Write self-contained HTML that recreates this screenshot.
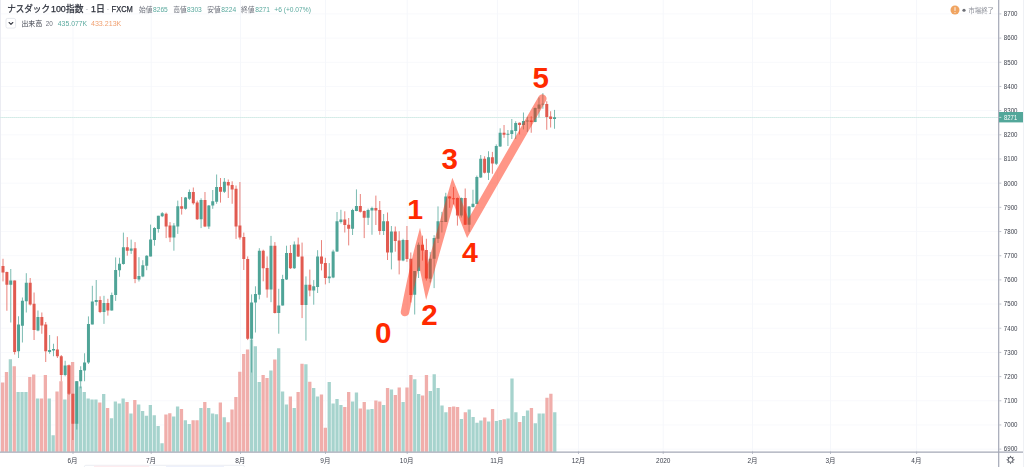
<!DOCTYPE html>
<html lang="ja"><head><meta charset="utf-8"><title>ナスダック100指数 1日 FXCM</title>
<style>html,body{margin:0;padding:0;background:#fff;width:1024px;height:467px;overflow:hidden}body{position:relative;font-family:"Liberation Sans",sans-serif}</style></head>
<body>
<svg width="1024" height="467" viewBox="0 0 1024 467" style="position:absolute;left:0;top:0;font-family:'Liberation Sans',sans-serif">
<rect width="1024" height="467" fill="#fff"/>
<path d="M0 13.9H998M0 38.08H998M0 62.26H998M0 86.44H998M0 110.62H998M0 134.8H998M0 158.98H998M0 183.16H998M0 207.34H998M0 231.52H998M0 255.7H998M0 279.88H998M0 304.06H998M0 328.24H998M0 352.42H998M0 376.6H998M0 400.78H998M0 424.96H998M0 449.14H998" stroke="#f8f9fc" stroke-width="1" fill="none"/>
<path d="M73 0V451.5M151.2 0V451.5M240.5 0V451.5M325.5 0V451.5M407.2 0V451.5M497.4 0V451.5M578.5 0V451.5M663.2 0V451.5M752.5 0V451.5M830.5 0V451.5M916.6 0V451.5" stroke="#f5f7fb" stroke-width="1" fill="none"/>
<path d="M0.5 0V451.5" stroke="#ebecf2" stroke-width="1"/>
<path d="M0 117.5H998" stroke="#dcefec" stroke-width="1" fill="none"/>
<path d="M0 117.5H998" stroke="#cde7e3" stroke-width="0.6" stroke-dasharray="1 1" fill="none"/>
<path d="M8.73 359.3h3.3V451.7h-3.3zM16.5 392.1h3.3V451.7h-3.3zM20.39 392.1h3.3V451.7h-3.3zM24.28 392.1h3.3V451.7h-3.3zM35.95 398.4h3.3V451.7h-3.3zM47.61 398.4h3.3V451.7h-3.3zM51.5 435.2h3.3V451.7h-3.3zM63.17 399.4h3.3V451.7h-3.3zM74.83 381.3h3.3V451.7h-3.3zM78.72 386.4h3.3V451.7h-3.3zM82.61 392.1h3.3V451.7h-3.3zM86.5 398.4h3.3V451.7h-3.3zM90.39 399.4h3.3V451.7h-3.3zM94.27 399.4h3.3V451.7h-3.3zM102.05 393.9h3.3V451.7h-3.3zM109.83 418.2h3.3V451.7h-3.3zM113.72 401.4h3.3V451.7h-3.3zM117.6 403.4h3.3V451.7h-3.3zM121.49 398.4h3.3V451.7h-3.3zM129.27 413.4h3.3V451.7h-3.3zM137.05 404.6h3.3V451.7h-3.3zM140.94 410.9h3.3V451.7h-3.3zM144.82 415.7h3.3V451.7h-3.3zM148.71 405.1h3.3V451.7h-3.3zM152.6 415.2h3.3V451.7h-3.3zM156.49 425.9h3.3V451.7h-3.3zM160.38 443.2h3.3V451.7h-3.3zM172.04 416.4h3.3V451.7h-3.3zM175.93 406.4h3.3V451.7h-3.3zM183.71 420.2h3.3V451.7h-3.3zM187.6 423.9h3.3V451.7h-3.3zM199.26 408.1h3.3V451.7h-3.3zM207.04 408.1h3.3V451.7h-3.3zM210.93 413.4h3.3V451.7h-3.3zM214.82 414.2h3.3V451.7h-3.3zM222.59 417.2h3.3V451.7h-3.3zM249.81 339.5h3.3V451.7h-3.3zM253.7 346.3h3.3V451.7h-3.3zM257.59 382.1h3.3V451.7h-3.3zM269.26 370.6h3.3V451.7h-3.3zM277.03 348.3h3.3V451.7h-3.3zM280.92 391.4h3.3V451.7h-3.3zM284.81 404.6h3.3V451.7h-3.3zM292.59 408.1h3.3V451.7h-3.3zM304.25 364.3h3.3V451.7h-3.3zM312.03 388.1h3.3V451.7h-3.3zM315.92 396.4h3.3V451.7h-3.3zM327.58 382.1h3.3V451.7h-3.3zM331.47 403.4h3.3V451.7h-3.3zM335.36 398.9h3.3V451.7h-3.3zM339.25 405.1h3.3V451.7h-3.3zM350.92 401.4h3.3V451.7h-3.3zM354.8 392.6h3.3V451.7h-3.3zM366.47 409.6h3.3V451.7h-3.3zM370.36 408.9h3.3V451.7h-3.3zM382.02 405.1h3.3V451.7h-3.3zM389.8 389.4h3.3V451.7h-3.3zM401.47 402.1h3.3V451.7h-3.3zM413.13 379.3h3.3V451.7h-3.3zM417.02 393.9h3.3V451.7h-3.3zM428.69 390.9h3.3V451.7h-3.3zM432.57 374.3h3.3V451.7h-3.3zM436.46 388.1h3.3V451.7h-3.3zM440.35 405.6h3.3V451.7h-3.3zM444.24 412.2h3.3V451.7h-3.3zM459.79 418.9h3.3V451.7h-3.3zM467.57 409.4h3.3V451.7h-3.3zM471.46 417.1h3.3V451.7h-3.3zM475.35 422.7h3.3V451.7h-3.3zM479.24 420.6h3.3V451.7h-3.3zM487.01 421.4h3.3V451.7h-3.3zM494.79 421.1h3.3V451.7h-3.3zM498.68 420h3.3V451.7h-3.3zM506.46 418.6h3.3V451.7h-3.3zM510.34 378.4h3.3V451.7h-3.3zM514.23 412.3h3.3V451.7h-3.3zM522.01 416h3.3V451.7h-3.3zM525.9 410.4h3.3V451.7h-3.3zM533.67 423.2h3.3V451.7h-3.3zM537.56 413.5h3.3V451.7h-3.3zM541.45 413.5h3.3V451.7h-3.3zM553.12 412.3h3.3V451.7h-3.3z" fill="#a6d3cd"/>
<path d="M0.95 382.6h3.3V451.7h-3.3zM4.84 372.1h3.3V451.7h-3.3zM12.62 366.3h3.3V451.7h-3.3zM28.17 377.1h3.3V451.7h-3.3zM32.06 374.6h3.3V451.7h-3.3zM39.84 398.4h3.3V451.7h-3.3zM43.72 375.1h3.3V451.7h-3.3zM55.39 391.4h3.3V451.7h-3.3zM59.28 381.3h3.3V451.7h-3.3zM67.05 365.1h3.3V451.7h-3.3zM70.94 362.1h3.3V451.7h-3.3zM98.16 402.6h3.3V451.7h-3.3zM105.94 408.1h3.3V451.7h-3.3zM125.38 402.1h3.3V451.7h-3.3zM133.16 400.1h3.3V451.7h-3.3zM164.27 414.4h3.3V451.7h-3.3zM168.16 413.2h3.3V451.7h-3.3zM179.82 408.9h3.3V451.7h-3.3zM191.49 420.2h3.3V451.7h-3.3zM195.38 420.2h3.3V451.7h-3.3zM203.15 402.1h3.3V451.7h-3.3zM218.71 402.6h3.3V451.7h-3.3zM226.48 422.2h3.3V451.7h-3.3zM230.37 409.4h3.3V451.7h-3.3zM234.26 397.1h3.3V451.7h-3.3zM238.15 371.8h3.3V451.7h-3.3zM242.04 354h3.3V451.7h-3.3zM245.93 349.5h3.3V451.7h-3.3zM261.48 375.1h3.3V451.7h-3.3zM265.37 378.1h3.3V451.7h-3.3zM273.15 359.5h3.3V451.7h-3.3zM288.7 396.4h3.3V451.7h-3.3zM296.48 391.9h3.3V451.7h-3.3zM300.36 363.8h3.3V451.7h-3.3zM308.14 381.8h3.3V451.7h-3.3zM319.81 394.4h3.3V451.7h-3.3zM323.7 427.7h3.3V451.7h-3.3zM343.14 407.1h3.3V451.7h-3.3zM347.03 392.1h3.3V451.7h-3.3zM358.69 408.4h3.3V451.7h-3.3zM362.58 402.1h3.3V451.7h-3.3zM374.25 400.6h3.3V451.7h-3.3zM378.13 401.4h3.3V451.7h-3.3zM385.91 388.1h3.3V451.7h-3.3zM393.69 395.1h3.3V451.7h-3.3zM397.58 387.6h3.3V451.7h-3.3zM405.35 387.6h3.3V451.7h-3.3zM409.24 375.1h3.3V451.7h-3.3zM420.91 395.6h3.3V451.7h-3.3zM424.8 375.1h3.3V451.7h-3.3zM448.13 407.1h3.3V451.7h-3.3zM452.02 406.4h3.3V451.7h-3.3zM455.9 407.1h3.3V451.7h-3.3zM463.68 412.2h3.3V451.7h-3.3zM483.12 417.4h3.3V451.7h-3.3zM490.9 409h3.3V451.7h-3.3zM502.57 419.3h3.3V451.7h-3.3zM518.12 422h3.3V451.7h-3.3zM529.79 408.1h3.3V451.7h-3.3zM545.34 397.7h3.3V451.7h-3.3zM549.23 393.7h3.3V451.7h-3.3z" fill="#f0aeab"/>
<path d="M10.77 269V322.5M18.54 316.25V358M22.42 297.5V342.5M26.3 273.2V312.5M37.96 310.5V331.25M49.61 335V353.75M53.49 343.75V356.25M65.14 360.75V376.25M76.8 381.25V429.5M80.68 366.25V388.25M84.56 353.25V381.25M88.45 316.4V364M92.33 285.8V324.4M96.22 280V305.6M103.98 295.8V323.9M111.75 292.6V310.6M115.64 257.4V300.9M119.52 257.8V276.8M123.4 232.6V264.7M131.17 239.6V253.9M138.94 257.2V281.5M142.82 260.2V277.2M146.71 255.2V270.2M150.59 224.6V256.4M154.48 227.1V245.7M158.36 215.8V232.6M162.24 212.1V217.1M173.9 223.1V250.7M177.78 200.6V233.9M185.55 197V209.6M189.43 189.5V200M201.08 198.3V228.1M208.85 205V228.9M212.74 190V208.8M216.62 174.5V203.8M224.39 178V193M251.58 294.4V372.5M255.46 286.3V332.5M259.34 248.2V299.4M271 235.9V302.2M278.76 288.8V333.7M282.65 274.8V305.6M286.53 245.7V280M294.3 241.4V269M305.95 276.4V340.6M313.72 280.1V304.7M317.6 250.2V293M329.26 263.1V283.1M333.14 249.7V278.2M337.02 212V252M340.91 209.8V223.5M352.56 208.75V235M356.44 189.4V211.25M368.1 208.6V225M371.98 206.7V234.75M383.63 214V235M391.4 226V269.4M403.05 238.75V261.25M414.7 271V314.5M418.59 242.5V278M430.24 251.9V282.5M434.12 235.2V288.1M438.01 206.4V243M441.89 211.9V232.5M445.78 192.8V222M461.31 197.5V217.5M469.08 206V231.9M472.96 189.75V207.5M476.85 175.6V204.5M480.73 155V178M488.5 151.25V180M496.27 144.4V165M500.15 128.3V146.9M507.92 130V146M511.8 119V139M515.69 121.25V139M523.46 112.5V129.4M527.34 116.9V131.9M535.11 107.5V122.2M538.99 97.5V117.5M542.88 93.1V108.75M554.53 109.9V128.75" stroke="#4fa497" stroke-width="0.75" fill="none"/>
<path d="M3 258.75V281.4M6.88 271.6V310.75M14.65 280.5V354.5M30.19 278V305.5M34.07 292.5V340M41.84 312.5V333.75M45.72 322V362M57.38 336.25V358M61.26 355V381.25M69.03 364.5V395M72.91 393.75V440M100.1 296.3V313.1M107.87 298.8V315.6M127.29 237.1V255.7M135.06 242.1V283.2M166.13 212.6V238.1M170.01 222.1V242.1M181.66 197V214.6M193.32 187.5V204.6M197.2 200.6V220M204.97 192V227.1M220.5 178V202.6M228.27 179.5V198M232.16 181.3V203.8M236.04 185.5V238.9M239.92 182V239.6M243.81 232.6V270M247.69 256.4V340.1M263.23 249.7V281.3M267.11 256.4V297.7M274.88 242.1V313.5M290.42 245V269M298.18 237.6V257M302.07 242.6V318.1M309.84 269.6V296.3M321.49 240.1V270.4M325.37 257.8V284.4M344.79 211.3V232.5M348.68 218V245.4M360.33 194V212.5M364.21 210.5V238.1M375.86 195.6V225M379.75 201V234.75M387.52 212.5V260M395.28 226.5V251.7M399.17 231.25V274.4M406.94 226V261.9M410.82 252.5V302.5M422.47 235.6V260.6M426.36 238.75V280.6M449.66 196V207.8M453.54 186.9V204.4M457.43 197.5V225.6M465.2 188.5V225M484.62 156.25V173.5M492.38 151.9V173.75M504.04 125V137.8M519.57 122.5V134.4M531.22 116.25V132.75M546.76 101.25V129.75M550.64 111.25V127.5" stroke="#e15a50" stroke-width="0.75" fill="none"/>
<path d="M9.27 280.5h3V284.8h-3zM17.04 324.5h3V351.25h-3zM20.92 300.75h3V325.75h-3zM24.8 282.8h3V301.25h-3zM36.46 316.9h3V330.5h-3zM48.11 350h3V352h-3zM51.99 349h3V350.5h-3zM63.64 365.5h3V375h-3zM75.3 381.25h3V423.75h-3zM79.18 370h3V381.25h-3zM83.06 362.5h3V370.5h-3zM86.95 323.9h3V362.6h-3zM90.83 301.4h3V324.4h-3zM94.72 300.1h3V301.9h-3zM102.48 303.1h3V311.9h-3zM110.25 295.1h3V310.6h-3zM114.14 270h3V295.1h-3zM118.02 263.8h3V270.3h-3zM121.9 247.2h3V263.9h-3zM129.67 248.4h3V250.7h-3zM137.44 276h3V279.5h-3zM141.32 265.2h3V276.5h-3zM145.21 255.7h3V265.7h-3zM149.09 239.6h3V256.4h-3zM152.98 228.1h3V240.1h-3zM156.86 215.8h3V228.9h-3zM160.74 213.3h3V216.3h-3zM172.4 225.6h3V237.6h-3zM176.28 206.3h3V226.4h-3zM184.05 197.6h3V208.8h-3zM187.93 192h3V198.8h-3zM199.58 200h3V219.3h-3zM207.35 205.6h3V226.4h-3zM211.24 201.3h3V205.6h-3zM215.12 187h3V201.8h-3zM222.89 181.8h3V191.8h-3zM250.08 302.5h3V338.8h-3zM253.96 294h3V302.5h-3zM257.84 250.7h3V294.7h-3zM269.5 245.7h3V289.6h-3zM277.26 305.6h3V313h-3zM281.15 278.9h3V305.6h-3zM285.03 253h3V279.5h-3zM292.8 244.4h3V268.3h-3zM304.45 284.7h3V305h-3zM312.22 286.3h3V290.6h-3zM316.1 256.4h3V287h-3zM327.76 276.6h3V278.2h-3zM331.64 251.4h3V277.5h-3zM335.52 221.3h3V251.6h-3zM339.41 219.4h3V221.9h-3zM351.06 210h3V228.8h-3zM354.94 206h3V211.1h-3zM366.6 210h3V217.75h-3zM370.48 207.9h3V210.6h-3zM382.13 221.25h3V231h-3zM389.9 231.5h3V252.5h-3zM401.55 240h3V260.6h-3zM413.2 271h3V294.75h-3zM417.09 244.75h3V271h-3zM428.74 258.75h3V278.75h-3zM432.62 238.1h3V258.75h-3zM436.51 221.25h3V238.75h-3zM440.39 220.95h3V221.85h-3zM444.28 196.5h3V221.9h-3zM459.81 198h3V215.6h-3zM467.58 206.5h3V224.75h-3zM471.46 203.75h3V206.9h-3zM475.35 176.9h3V204h-3zM479.23 158.75h3V177.5h-3zM487 157.25h3V172.75h-3zM494.77 146.1h3V163.75h-3zM498.65 132.75h3V146.5h-3zM506.42 133.75h3V134.75h-3zM510.3 130.25h3V134h-3zM514.19 123.1h3V131h-3zM521.96 121h3V125h-3zM525.84 120.55h3V121.45h-3zM533.61 108.1h3V121.9h-3zM537.49 104.4h3V108.75h-3zM541.38 103.67h3V104.58h-3zM553.03 117.25h3V119h-3z" fill="#4fa497"/>
<path d="M1.5 265.9h3V272.6h-3zM5.38 272h3V284.7h-3zM13.15 280.5h3V352h-3zM28.69 282.8h3V304.5h-3zM32.57 303.75h3V330h-3zM40.34 316.9h3V325.6h-3zM44.22 324.5h3V351.25h-3zM55.88 349.5h3V356.25h-3zM59.76 356.25h3V375h-3zM67.53 365.5h3V393.75h-3zM71.41 393.75h3V423.75h-3zM98.6 300.1h3V311.9h-3zM106.37 303.1h3V310.6h-3zM125.79 247.2h3V250.7h-3zM133.56 248.2h3V279h-3zM164.63 213.8h3V226.4h-3zM168.51 225.6h3V237.6h-3zM180.16 206.3h3V208.8h-3zM191.82 192h3V203.3h-3zM195.7 202.6h3V219.3h-3zM203.47 200h3V226.4h-3zM219 187h3V191.8h-3zM226.77 182h3V185.5h-3zM230.66 185h3V189.5h-3zM234.54 188.8h3V226.4h-3zM238.42 225.6h3V237.6h-3zM242.31 236.9h3V258.9h-3zM246.19 258.9h3V338.8h-3zM261.73 250.7h3V268.2h-3zM265.61 268h3V289.6h-3zM273.38 245.7h3V313h-3zM288.92 253h3V268.2h-3zM296.68 244.4h3V256.4h-3zM300.57 256.4h3V305h-3zM308.34 284.7h3V290.6h-3zM319.99 256.4h3V263.8h-3zM323.87 263.1h3V278.1h-3zM343.29 219.4h3V225h-3zM347.18 224.8h3V228.8h-3zM358.83 206h3V211.7h-3zM362.71 211.1h3V217.75h-3zM374.36 208.1h3V210.5h-3zM378.25 210h3V231h-3zM386.02 221.25h3V252.5h-3zM393.78 231.5h3V241h-3zM397.67 240.6h3V260.6h-3zM405.44 240h3V259h-3zM409.32 258.75h3V295h-3zM420.97 244.75h3V250.6h-3zM424.86 250h3V278.5h-3zM448.16 196.5h3V198.4h-3zM452.04 198.3h3V199.2h-3zM455.93 198h3V215.6h-3zM463.7 198h3V224.75h-3zM483.12 158.75h3V172.75h-3zM490.88 157.25h3V163.6h-3zM502.54 132.75h3V134.7h-3zM518.07 122.75h3V125.1h-3zM529.72 120.6h3V121.9h-3zM545.26 104h3V116.9h-3zM549.14 116.5h3V119h-3z" fill="#e15a50"/>
<path d="M405 312.1Q413.15 270.3 419.48 246.4L426.82 282.24L453 190.83L467.81 228.3L542.3 98.6" fill="none" stroke="#ff2d10" stroke-opacity="0.5" stroke-width="8.5" stroke-linecap="round" stroke-linejoin="miter" stroke-miterlimit="20"/>
<text x="383.2" y="342.5" font-size="29.5" font-weight="bold" fill="#ff2a00" text-anchor="middle" font-family="'Liberation Sans',sans-serif">0</text>
<text x="415.2" y="218.8" font-size="28.5" font-weight="bold" fill="#ff2a00" text-anchor="middle" font-family="'Liberation Sans',sans-serif">1</text>
<text x="429.5" y="325" font-size="29.5" font-weight="bold" fill="#ff2a00" text-anchor="middle" font-family="'Liberation Sans',sans-serif">2</text>
<text x="449.6" y="169.2" font-size="29.5" font-weight="bold" fill="#ff2a00" text-anchor="middle" font-family="'Liberation Sans',sans-serif">3</text>
<text x="469.9" y="261.65" font-size="28.5" font-weight="bold" fill="#ff2a00" text-anchor="middle" font-family="'Liberation Sans',sans-serif">4</text>
<text x="540.6" y="88" font-size="29.5" font-weight="bold" fill="#ff2a00" text-anchor="middle" font-family="'Liberation Sans',sans-serif">5</text>
<filter id="nf" x="0" y="0" width="1024" height="467" filterUnits="userSpaceOnUse"><feOffset dx="0" dy="0"/></filter><g filter="url(#nf)">
<path d="M998.7 0V467" stroke="#a4a8b6" stroke-width="1.2"/>
<path d="M0 452.2H1023" stroke="#a4a8b6" stroke-width="1.2"/>
<path d="M999.3 13.9h2M999.3 38.08h2M999.3 62.26h2M999.3 86.44h2M999.3 110.62h2M999.3 134.8h2M999.3 158.98h2M999.3 183.16h2M999.3 207.34h2M999.3 231.52h2M999.3 255.7h2M999.3 279.88h2M999.3 304.06h2M999.3 328.24h2M999.3 352.42h2M999.3 376.6h2M999.3 400.78h2M999.3 424.96h2M999.3 449.14h2" stroke="#a4a8b6" stroke-width="0.7"/>
<clipPath id="pc"><rect x="999.5" y="0" width="25" height="451.7"/></clipPath>
<g font-size="6.5" fill="#3b3f4a" clip-path="url(#pc)" textLength="13.7">
<text x="1003.8" y="16.25" textLength="13.7" lengthAdjust="spacingAndGlyphs">8700</text>
<text x="1003.8" y="40.43" textLength="13.7" lengthAdjust="spacingAndGlyphs">8600</text>
<text x="1003.8" y="64.61" textLength="13.7" lengthAdjust="spacingAndGlyphs">8500</text>
<text x="1003.8" y="88.79" textLength="13.7" lengthAdjust="spacingAndGlyphs">8400</text>
<text x="1003.8" y="112.97" textLength="13.7" lengthAdjust="spacingAndGlyphs">8300</text>
<text x="1003.8" y="137.15" textLength="13.7" lengthAdjust="spacingAndGlyphs">8200</text>
<text x="1003.8" y="161.33" textLength="13.7" lengthAdjust="spacingAndGlyphs">8100</text>
<text x="1003.8" y="185.51" textLength="13.7" lengthAdjust="spacingAndGlyphs">8000</text>
<text x="1003.8" y="209.69" textLength="13.7" lengthAdjust="spacingAndGlyphs">7900</text>
<text x="1003.8" y="233.87" textLength="13.7" lengthAdjust="spacingAndGlyphs">7800</text>
<text x="1003.8" y="258.05" textLength="13.7" lengthAdjust="spacingAndGlyphs">7700</text>
<text x="1003.8" y="282.23" textLength="13.7" lengthAdjust="spacingAndGlyphs">7600</text>
<text x="1003.8" y="306.41" textLength="13.7" lengthAdjust="spacingAndGlyphs">7500</text>
<text x="1003.8" y="330.59" textLength="13.7" lengthAdjust="spacingAndGlyphs">7400</text>
<text x="1003.8" y="354.77" textLength="13.7" lengthAdjust="spacingAndGlyphs">7300</text>
<text x="1003.8" y="378.95" textLength="13.7" lengthAdjust="spacingAndGlyphs">7200</text>
<text x="1003.8" y="403.13" textLength="13.7" lengthAdjust="spacingAndGlyphs">7100</text>
<text x="1003.8" y="427.31" textLength="13.7" lengthAdjust="spacingAndGlyphs">7000</text>
<text x="1003.8" y="451.49" textLength="13.7" lengthAdjust="spacingAndGlyphs">6900</text>
</g>
<rect x="999" y="112" width="24" height="10.4" fill="#53a79a"/>
<path d="M999.3 117.4h2" stroke="#e8f4f2" stroke-width="0.7"/>
<text x="1004" y="119.7" font-size="6.5" fill="#fff" textLength="13.2" lengthAdjust="spacingAndGlyphs">8271</text>
<path d="M73 451.5v2.5M151.2 451.5v2.5M240.5 451.5v2.5M325.5 451.5v2.5M407.2 451.5v2.5M497.4 451.5v2.5M578.5 451.5v2.5M663.2 451.5v2.5M752.5 451.5v2.5M830.5 451.5v2.5M916.6 451.5v2.5" stroke="#a4a8b6" stroke-width="0.7"/>
<text x="67.44" y="463" font-size="6.5" fill="#3b3f4a" font-family="'Liberation Sans','Noto Sans CJK JP',sans-serif">6月</text>
<text x="145.94" y="463" font-size="6.5" fill="#3b3f4a" font-family="'Liberation Sans','Noto Sans CJK JP',sans-serif">7月</text>
<text x="235.24" y="463" font-size="6.5" fill="#3b3f4a" font-family="'Liberation Sans','Noto Sans CJK JP',sans-serif">8月</text>
<text x="320.34" y="463" font-size="6.5" fill="#3b3f4a" font-family="'Liberation Sans','Noto Sans CJK JP',sans-serif">9月</text>
<text x="399.84" y="463" font-size="6.5" fill="#3b3f4a" font-family="'Liberation Sans','Noto Sans CJK JP',sans-serif">10月</text>
<text x="490.24" y="463" font-size="6.5" fill="#3b3f4a" font-family="'Liberation Sans','Noto Sans CJK JP',sans-serif">11月</text>
<text x="571.64" y="463" font-size="6.5" fill="#3b3f4a" font-family="'Liberation Sans','Noto Sans CJK JP',sans-serif">12月</text>
<text x="663.25" y="463" font-size="6.5" fill="#3b3f4a" text-anchor="middle">2020</text>
<text x="747.44" y="463" font-size="6.5" fill="#3b3f4a" font-family="'Liberation Sans','Noto Sans CJK JP',sans-serif">2月</text>
<text x="825.44" y="463" font-size="6.5" fill="#3b3f4a" font-family="'Liberation Sans','Noto Sans CJK JP',sans-serif">3月</text>
<text x="911.34" y="463" font-size="6.5" fill="#3b3f4a" font-family="'Liberation Sans','Noto Sans CJK JP',sans-serif">4月</text>
<circle cx="1010.55" cy="459.85" r="2.45" fill="none" stroke="#555862" stroke-width="1.0"/>
<path d="M1009.75 462.65L1010.55 464.25L1011.35 462.65ZM1008 461.26L1007.44 462.96L1009.14 462.4ZM1007.75 459.05L1006.15 459.85L1007.75 460.65ZM1009.14 457.3L1007.44 456.74L1008 458.44ZM1011.35 457.05L1010.55 455.45L1009.75 457.05ZM1013.1 458.44L1013.66 456.74L1011.96 457.3ZM1013.35 460.65L1014.95 459.85L1013.35 459.05ZM1011.96 462.4L1013.66 462.96L1013.1 461.26Z" fill="#555862"/>
<rect x="1023.2" y="0" width="0.8" height="467" fill="#eceef3"/>
<text x="7.2" y="12.4" font-size="8.9" fill="#2b2f3a" stroke="#2b2f3a" stroke-width="0.25" textLength="42.8" lengthAdjust="spacingAndGlyphs" font-family="'Liberation Sans','Noto Sans CJK JP',sans-serif">ナスダック</text>
<text x="51" y="12.4" font-size="8.9" fill="#2b2f3a" stroke="#2b2f3a" stroke-width="0.25">100</text>
<text x="66" y="12.4" font-size="8.9" fill="#2b2f3a" stroke="#2b2f3a" stroke-width="0.25" textLength="17.5" lengthAdjust="spacingAndGlyphs" font-family="'Liberation Sans','Noto Sans CJK JP',sans-serif">指数</text>
<text x="85.4" y="12.4" font-size="8.9" fill="#9a9eaa">·</text>
<text x="91" y="12.4" font-size="8.9" fill="#2b2f3a" stroke="#2b2f3a" stroke-width="0.25">1</text>
<text x="96" y="12.4" font-size="8.9" fill="#2b2f3a" stroke="#2b2f3a" stroke-width="0.25" font-family="'Liberation Sans','Noto Sans CJK JP',sans-serif">日</text>
<text x="106.4" y="12.4" font-size="8.9" fill="#9a9eaa">·</text>
<text x="111.6" y="12.4" font-size="8.9" fill="#2b2f3a" stroke="#2b2f3a" stroke-width="0.25" textLength="21.3" lengthAdjust="spacingAndGlyphs">FXCM</text>
<text x="139" y="11.8" font-size="6.8" fill="#6c707b" textLength="13.4" lengthAdjust="spacingAndGlyphs" font-family="'Liberation Sans','Noto Sans CJK JP',sans-serif">始値</text>
<text x="153" y="11.8" font-size="6.8" fill="#5aa99e" textLength="14.8" lengthAdjust="spacingAndGlyphs">8265</text>
<text x="173.2" y="11.8" font-size="6.8" fill="#6c707b" textLength="13.4" lengthAdjust="spacingAndGlyphs" font-family="'Liberation Sans','Noto Sans CJK JP',sans-serif">高値</text>
<text x="187" y="11.8" font-size="6.8" fill="#5aa99e" textLength="14.8" lengthAdjust="spacingAndGlyphs">8303</text>
<text x="207.2" y="11.8" font-size="6.8" fill="#6c707b" textLength="13.4" lengthAdjust="spacingAndGlyphs" font-family="'Liberation Sans','Noto Sans CJK JP',sans-serif">安値</text>
<text x="221.3" y="11.8" font-size="6.8" fill="#5aa99e" textLength="14.8" lengthAdjust="spacingAndGlyphs">8224</text>
<text x="241" y="11.8" font-size="6.8" fill="#6c707b" textLength="13.5" lengthAdjust="spacingAndGlyphs" font-family="'Liberation Sans','Noto Sans CJK JP',sans-serif">終値</text>
<text x="255.2" y="11.8" font-size="6.8" fill="#5aa99e" textLength="14.8" lengthAdjust="spacingAndGlyphs">8271</text>
<text x="274.3" y="11.8" font-size="6.8" fill="#5aa99e" textLength="36.6" lengthAdjust="spacingAndGlyphs">+6 (+0.07%)</text>
<rect x="6" y="18.4" width="9.6" height="9.7" rx="1.6" fill="#fff" stroke="#dcdfe6" stroke-width="0.7"/>
<path d="M9.1 22.5l1.85 1.8l1.85-1.8" fill="none" stroke="#3a3d46" stroke-width="1.1" stroke-linecap="round" stroke-linejoin="round"/>
<text x="21.4" y="26.2" font-size="7" fill="#3f434e" textLength="20.9" lengthAdjust="spacingAndGlyphs" font-family="'Liberation Sans','Noto Sans CJK JP',sans-serif">出来高</text>
<text x="45.7" y="26.2" font-size="6.8" fill="#6c707b" textLength="7.1" lengthAdjust="spacingAndGlyphs">20</text>
<text x="57.8" y="26.2" font-size="6.8" fill="#5aa99e" textLength="29.4" lengthAdjust="spacingAndGlyphs">435.077K</text>
<text x="91" y="26.2" font-size="6.8" fill="#f0a070" textLength="30.3" lengthAdjust="spacingAndGlyphs">433.213K</text>
<circle cx="955" cy="10" r="4.5" fill="#f0a461"/>
<path d="M955 7.6v2.9" stroke="#fff" stroke-width="0.9" stroke-linecap="round"/><circle cx="955" cy="12.4" r="0.5" fill="#fff"/>
<circle cx="964" cy="10.25" r="1.6" fill="#6d6f76"/>
<text x="968.4" y="12.6" font-size="6.4" fill="#8d9099" textLength="25.6" lengthAdjust="spacingAndGlyphs" font-family="'Liberation Sans','Noto Sans CJK JP',sans-serif">市場終了</text>
<rect x="84.4" y="465.3" width="160" height="4" rx="1.5" fill="#fff" stroke="#e3e6ee" stroke-width="0.7"/>
<rect x="94" y="465.7" width="55" height="2" fill="#fdecef"/>
<rect x="166" y="465.7" width="58" height="2" fill="#eef1fb"/>
</g>
</svg>
</body></html>
